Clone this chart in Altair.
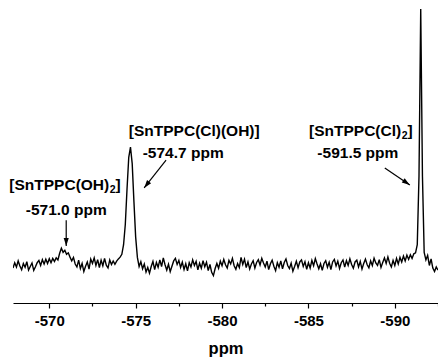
import math
import altair as alt
import pandas as pd

# ---------------- data ----------------
PPM_START = -567.9
PPM_STEP = 0.1
INTENSITY = [
    -1.2, 0.9, -0.8, 1.6, -0.4, -1.9, 0.6, -0.9, 1.3, -2.0,
    -0.6, 0.8, -2.1, -0.7, 0.9, 1.8, -0.2, 2.1, 0.4, 2.3,
    0.6, 2.5, 0.9, 2.6, 1.4, 2.8, 2.0, 4.6, 6.6, 5.0,
    5.8, 4.2, 4.8, 3.1, 1.6, 3.0, 0.4, -0.8, 1.9, -1.4,
    0.6, -2.6, -0.5, 1.2, -1.6, 2.3, 0.6, 2.8, -0.2, 2.1,
    -1.0, 1.9, -0.3, 2.6, -0.1, -1.2, 2.0, 0.2, 1.6, 0.3,
    1.5, 2.4, 3.1, 4.2, 8.0, 16.0, 30.0, 42.5, 46.5, 40.0,
    25.0, 11.0, 3.0, -0.6, 1.3, -1.5, 0.4, -2.8, -1.0, -3.2,
    -0.6, 1.4, -1.8, 1.0, -0.9, 2.0, -0.6, 2.8, 0.1, -2.0,
    0.3, -2.6, -0.5, 1.6, 2.6, 0.2, 1.8, -1.0, 1.1, -1.8,
    0.5, -2.3, 0.9, -0.8, 2.0, -0.2, 1.4, -1.9, 0.7, -1.3,
    1.7, -0.7, 1.1, -2.2, 0.2, -2.9, -4.2, -1.4, 0.6, -1.3,
    1.5, -0.3, 2.2, 0.1, -1.2, 1.8, 0.4, 2.6, -0.3, -1.7,
    0.6, -1.0, 3.0, 0.2, 2.3, -1.0, 1.2, -1.6, 0.4, 1.7,
    -1.2, 1.0, 2.1, 0.0, 2.6, 0.8, -0.8, 1.5, -1.8, 0.5,
    1.9, -0.5, -2.2, 0.9, -0.9, 1.6, -1.5, 1.0, 2.4, -0.2,
    -1.4, 0.7, -2.5, -0.6, 1.5, -1.1, 1.2, 2.0, -0.6, 1.3,
    -1.7, 0.9, -1.2, 1.8, -0.3, 2.5, 0.4, -1.5, 0.5, -2.1,
    0.6, 1.7, -0.9, 1.1, -1.8, 1.2, 2.2, -0.4, 1.5, -1.4,
    0.9, 2.0, -0.8, 1.7, -0.2, 2.4, 0.2, -1.3, 1.2, 1.9,
    -0.8, 1.4, -1.6, 0.6, 2.3, 0.1, -1.1, 1.6, -0.2, 2.7,
    0.8, -0.2, 2.1, -1.0, 1.0, 2.8, 0.6, 3.2, 0.7, -0.8,
    1.8, -0.2, 2.6, 0.4, 3.0, 1.2, 3.5, 1.6, 3.9, 2.2,
    4.0, 2.6, 4.4, 4.8, 8.0, 35.0, 101.0, 35.0, 5.0, 2.0,
    3.8, -0.2, 2.4, -1.2, -2.6, -0.8, -2.0,
]
PPM = [round(PPM_START - i * PPM_STEP, 2) for i in range(len(INTENSITY))]

# compound name labels (anchor = junction before subscript, text right-aligned)
NAME_TEXT = ["[SnTPPC(OH)", "[SnTPPC(Cl)(OH)]", "[SnTPPC(Cl)"]
NAME_SUB = ["2", "", "2"]
NAME_CLOSE = ["]", "", "]"]
NAME_X = [-573.47, -582.18, -590.37]
NAME_Y = [31.6, 52.7, 52.7]

# chemical shift labels (centred)
SHIFT_TEXT = ["-571.0 ppm", "-574.7 ppm", "-591.5 ppm"]
SHIFT_X = [-570.98, -577.75, -587.86]
SHIFT_Y = [21.7, 44.0, 44.0]

# arrows (start -> tip)
ARROW_X1 = [-570.98, -576.76, -589.42]
ARROW_Y1 = [17.7, 41.4, 38.3]
ARROW_X2 = [-570.98, -575.49, -590.87]
ARROW_Y2 = [7.5, 30.4, 31.6]

MAJOR_TICKS = [-570, -575, -580, -585, -590]
MINOR_TICKS = [-572.5, -577.5, -582.5, -587.5, -592.5]

# ---------------- layout / style ----------------
W, H = 425, 295
X_DOMAIN = [-592.5, -567.9]
Y_DOMAIN = [-15, 101.4]
FONT = "Liberation Sans"
FS = 15.5

xscale = alt.Scale(domain=X_DOMAIN, reverse=True, nice=False, zero=False)
yscale = alt.Scale(domain=Y_DOMAIN, nice=False, zero=False)

spec = pd.DataFrame({"ppm": PPM, "intensity": INTENSITY})

ticks = sorted(MAJOR_TICKS + MINOR_TICKS)
xaxis = alt.Axis(
    values=ticks,
    labelExpr="datum.value % 5 === 0 ? '' + datum.value : ''",
    title="ppm",
    grid=False,
    domainColor="black",
    domainWidth=1.2,
    tickColor="black",
    tickWidth=1.2,
    tickSize={"condition": {"test": "datum.value % 5 === 0", "value": 5}, "value": 3},
    labelFont=FONT,
    labelFontSize=15,
    labelFontWeight="bold",
    labelColor="black",
    labelPadding=5,
    titleFont=FONT,
    titleFontSize=16.5,
    titleFontWeight="bold",
    titleColor="black",
    titlePadding=12,
)

line = alt.Chart(spec).mark_line(color="black", strokeWidth=1.4, clip=True).encode(
    x=alt.X("ppm:Q", scale=xscale, axis=xaxis),
    y=alt.Y("intensity:Q", scale=yscale, axis=None),
)

# arrows
px_per_x = W / (X_DOMAIN[1] - X_DOMAIN[0])
px_per_y = H / (Y_DOMAIN[1] - Y_DOMAIN[0])
angles = []
for x1, y1, x2, y2 in zip(ARROW_X1, ARROW_Y1, ARROW_X2, ARROW_Y2):
    dx = (x1 - x2) * px_per_x  # reversed axis
    dy = (y1 - y2) * px_per_y  # screen down
    angles.append(math.degrees(math.atan2(-dx, dy)) % 360)

arrows = pd.DataFrame({"x1": ARROW_X1, "y1": ARROW_Y1, "x2": ARROW_X2,
                       "y2": ARROW_Y2, "angle": angles})

shafts = alt.Chart(arrows).mark_rule(color="black", strokeWidth=1.2).encode(
    x="x1:Q", y="y1:Q", x2="x2:Q", y2="y2:Q"
)
heads = alt.Chart(arrows).mark_point(
    shape="M0,0 L-0.32,-1 L0.32,-1 Z", filled=True, color="black", opacity=1,
    size=256, strokeWidth=0,
).encode(x="x2:Q", y="y2:Q", angle=alt.Angle("angle:Q", scale=None))

names = pd.DataFrame({"text": NAME_TEXT, "sub": NAME_SUB, "close": NAME_CLOSE,
                      "x": NAME_X, "y": NAME_Y})
txt = dict(font=FONT, fontWeight="bold", color="black", baseline="middle")
name_main = alt.Chart(names).mark_text(align="right", fontSize=FS, **txt).encode(
    x="x:Q", y="y:Q", text="text:N")
name_sub = alt.Chart(names).mark_text(align="left", fontSize=10.5, dy=5, dx=0.5, **txt).encode(
    x="x:Q", y="y:Q", text="sub:N")
name_close = alt.Chart(names).mark_text(align="left", fontSize=FS, dx=6.3, **txt).encode(
    x="x:Q", y="y:Q", text="close:N")

shifts = pd.DataFrame({"text": SHIFT_TEXT, "x": SHIFT_X, "y": SHIFT_Y})
shift_text = alt.Chart(shifts).mark_text(align="center", fontSize=FS, **txt).encode(
    x="x:Q", y="y:Q", text="text:N")

chart = alt.layer(line, shafts, heads, name_main, name_sub, name_close, shift_text).properties(
    width=W, height=H,
    autosize=alt.AutoSizeParams(type="none"),
    padding={"left": 5, "top": 0, "right": 0, "bottom": 55},
    background="white",
).configure_view(stroke=None)

chart.save("out.html", embed_options={"renderer": "svg", "actions": False})
